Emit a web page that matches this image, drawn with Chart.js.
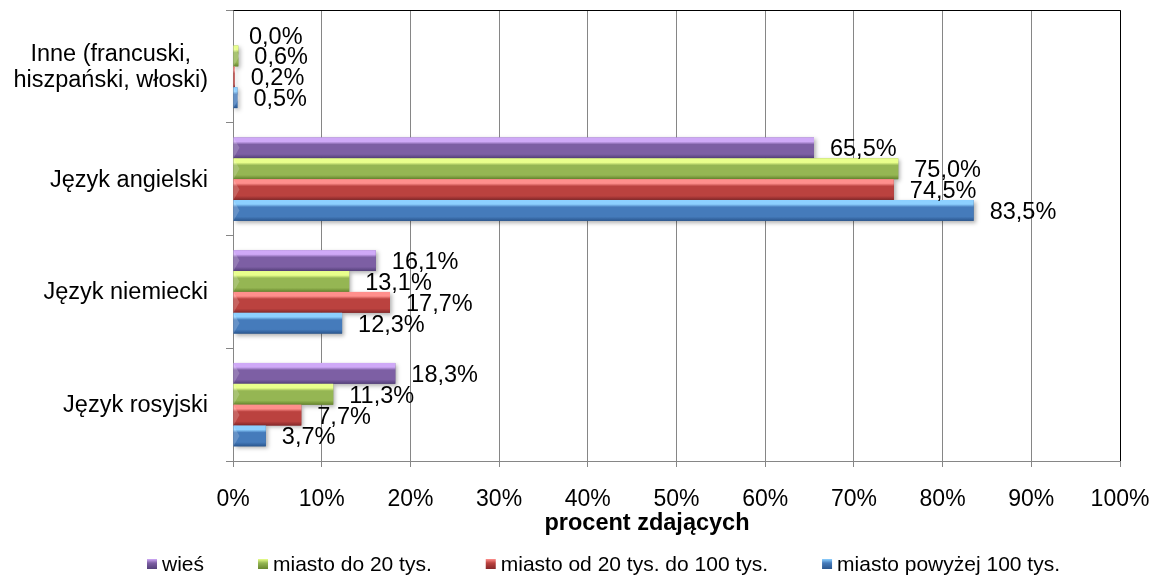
<!DOCTYPE html>
<html>
<head>
<meta charset="utf-8">
<script src="https://cdn.jsdelivr.net/npm/chart.js@4.4.0/dist/chart.umd.min.js"></script>
<style>
  html, body { margin: 0; padding: 0; background: #fff; }
  #wrap { width: 1154px; height: 588px; }
</style>
</head>
<body>
<div id="wrap"><canvas id="chart" width="1154" height="588"></canvas></div>
<script>
// Data
const categories = [['Inne (francuski,', 'hiszpański, włoski)'], 'Język angielski', 'Język niemiecki', 'Język rosyjski'];
const seriesNames = ['wieś', 'miasto do 20 tys.', 'miasto od 20 tys. do 100 tys.', 'miasto powyżej 100 tys.'];
const wies = [0.0, 65.5, 16.1, 18.3];
const miastoDo20 = [0.6, 75.0, 13.1, 11.3];
const miasto20do100 = [0.2, 74.5, 17.7, 7.7];
const miastoPowyzej100 = [0.5, 83.5, 12.3, 3.7];
const xAxisTitle = 'procent zdających';

// Styles (light top, body, dark bottom)
const palette = [
    { light: '#cfa9f7', mid: '#7d5fa4', dark: '#54407a' },
    { light: '#e9ff8c', mid: '#95b653', dark: '#67862e' },
    { light: '#ff8f8c', mid: '#bb423f', dark: '#85282a' },
    { light: '#8dd0ff', mid: '#457bbb', dark: '#2a568e' }
];
const FONT = '"Liberation Sans", Arial, sans-serif';
const GRID = '#868686';

const fmt = v => v.toFixed(1).replace('.', ',') + '%';

function barGradient(ctx, top, bottom, c) {
    const g = ctx.createLinearGradient(0, top, 0, bottom);
    g.addColorStop(0, c.light);
    g.addColorStop(0.2, c.light);
    g.addColorStop(0.34, c.mid);
    g.addColorStop(0.8, c.mid);
    g.addColorStop(1, c.dark);
    return g;
}

// 3D-ish bars, value labels, frame, category labels, axis title and legend
const excelLook = {
    id: 'excelLook',
    afterDatasetsDraw(chart) {
        const ctx = chart.ctx;
        chart.data.datasets.forEach((ds, di) => {
            const meta = chart.getDatasetMeta(di);
            meta.data.forEach(el => {
                const p = el.getProps(['x', 'y', 'base', 'height'], true);
                const left = Math.min(p.x, p.base);
                const w = Math.abs(p.x - p.base);
                const top = p.y - p.height / 2;
                if (w < 0.5) return;
                ctx.save();
                ctx.shadowColor = 'rgba(0,0,0,0.3)';
                ctx.shadowBlur = 4;
                ctx.shadowOffsetX = 2;
                ctx.shadowOffsetY = 2;
                ctx.fillStyle = barGradient(ctx, top, top + p.height, palette[di]);
                ctx.fillRect(left, top, w, p.height);
                ctx.restore();
                // small bevel at the left end
                ctx.save();
                ctx.fillStyle = 'rgba(255,255,255,0.18)';
                ctx.beginPath();
                ctx.moveTo(left, top);
                ctx.lineTo(left + 6, top + p.height / 2);
                ctx.lineTo(left, top + p.height);
                ctx.closePath();
                ctx.fill();
                ctx.restore();
            });
        });
        // value labels
        ctx.save();
        ctx.font = '23.5px ' + FONT;
        ctx.fillStyle = '#000';
        ctx.textAlign = 'left';
        ctx.textBaseline = 'middle';
        chart.data.datasets.forEach((ds, di) => {
            const meta = chart.getDatasetMeta(di);
            meta.data.forEach((el, i) => {
                const p = el.getProps(['x', 'y'], true);
                ctx.fillText(fmt(ds.data[i]), p.x + 16, p.y + 2);
            });
        });
        ctx.restore();
    },
    afterDraw(chart) {
        const ctx = chart.ctx;
        const a = chart.chartArea;
        // black top and right frame
        ctx.save();
        ctx.strokeStyle = '#000';
        ctx.lineWidth = 1;
        ctx.beginPath();
        ctx.moveTo(Math.round(a.left) + 0.5, Math.round(a.top) + 0.5);
        ctx.lineTo(Math.round(a.right) + 0.5, Math.round(a.top) + 0.5);
        ctx.lineTo(Math.round(a.right) + 0.5, Math.round(a.bottom));
        ctx.stroke();
        ctx.restore();

        // category labels: block right aligned, lines centred
        const yScale = chart.scales.y;
        ctx.save();
        ctx.font = '23.5px ' + FONT;
        ctx.fillStyle = '#000';
        ctx.textAlign = 'center';
        ctx.textBaseline = 'middle';
        const lh = 26;
        const rightEdge = a.left - 25;
        chart.data.labels.forEach((lab, i) => {
            const lines = Array.isArray(lab) ? lab : [lab];
            const bw = Math.max(...lines.map(l => ctx.measureText(l).width));
            const cx = rightEdge - bw / 2;
            const cy = yScale.getPixelForTick(i);
            lines.forEach((l, k) => {
                ctx.fillText(l, cx, cy - (lines.length - 1) * lh / 2 + k * lh + 1);
            });
        });
        ctx.restore();

        // x axis title (Excel puts it a bit left of the plot centre)
        ctx.save();
        ctx.font = 'bold 23.5px ' + FONT;
        ctx.fillStyle = '#000';
        ctx.textAlign = 'center';
        ctx.textBaseline = 'middle';
        ctx.fillText(xAxisTitle, 647, 524);
        ctx.restore();

        // legend
        ctx.save();
        ctx.font = '21px ' + FONT;
        ctx.fillStyle = '#000';
        ctx.textAlign = 'left';
        ctx.textBaseline = 'middle';
        let x = 147;
        const cy = 564;
        chart.data.datasets.forEach((ds, di) => {
            const c = palette[di];
            const g = ctx.createLinearGradient(x, cy - 5, x, cy + 5);
            g.addColorStop(0, c.light);
            g.addColorStop(0.4, c.mid);
            g.addColorStop(1, c.dark);
            ctx.fillStyle = g;
            ctx.fillRect(x, cy - 5, 10, 10);
            ctx.fillStyle = '#000';
            ctx.fillText(ds.label, x + 15, cy + 1);
            x += 15 + ctx.measureText(ds.label).width + 54;
        });
        ctx.restore();
    }
};

const seriesData = [wies, miastoDo20, miasto20do100, miastoPowyzej100];

new Chart(document.getElementById('chart'), {
    type: 'bar',
    data: {
        labels: categories,
        datasets: seriesNames.map((name, i) => ({
            label: name,
            data: seriesData[i],
            backgroundColor: palette[i].mid,
            borderWidth: 0,
            categoryPercentage: 0.74,
            barPercentage: 1.0
        }))
    },
    options: {
        indexAxis: 'y',
        responsive: false,
        animation: false,
        devicePixelRatio: 1,
        layout: { padding: { top: 10, right: 34, bottom: 49, left: 0 } },
        plugins: {
            legend: { display: false },
            tooltip: { enabled: false }
        },
        scales: {
            x: {
                min: 0,
                max: 100,
                ticks: {
                    stepSize: 10,
                    padding: 19,
                    color: '#000',
                    font: { family: FONT, size: 23 },
                    callback: v => v + '%'
                },
                grid: { color: GRID, lineWidth: 1, tickLength: 6, drawTicks: true },
                border: { color: GRID, width: 1 },
                title: { display: false },
                afterFit(scale) {
                    scale.height = 78;
                    scale.paddingLeft = 0;
                    scale.paddingRight = 0;
                }
            },
            y: {
                ticks: { display: false },
                grid: { drawOnChartArea: false, drawTicks: true, tickLength: 7, color: GRID },
                border: { color: GRID, width: 1 },
                afterFit(scale) { scale.width = 233; }
            }
        }
    },
    plugins: [excelLook]
});
</script>
</body>
</html>
